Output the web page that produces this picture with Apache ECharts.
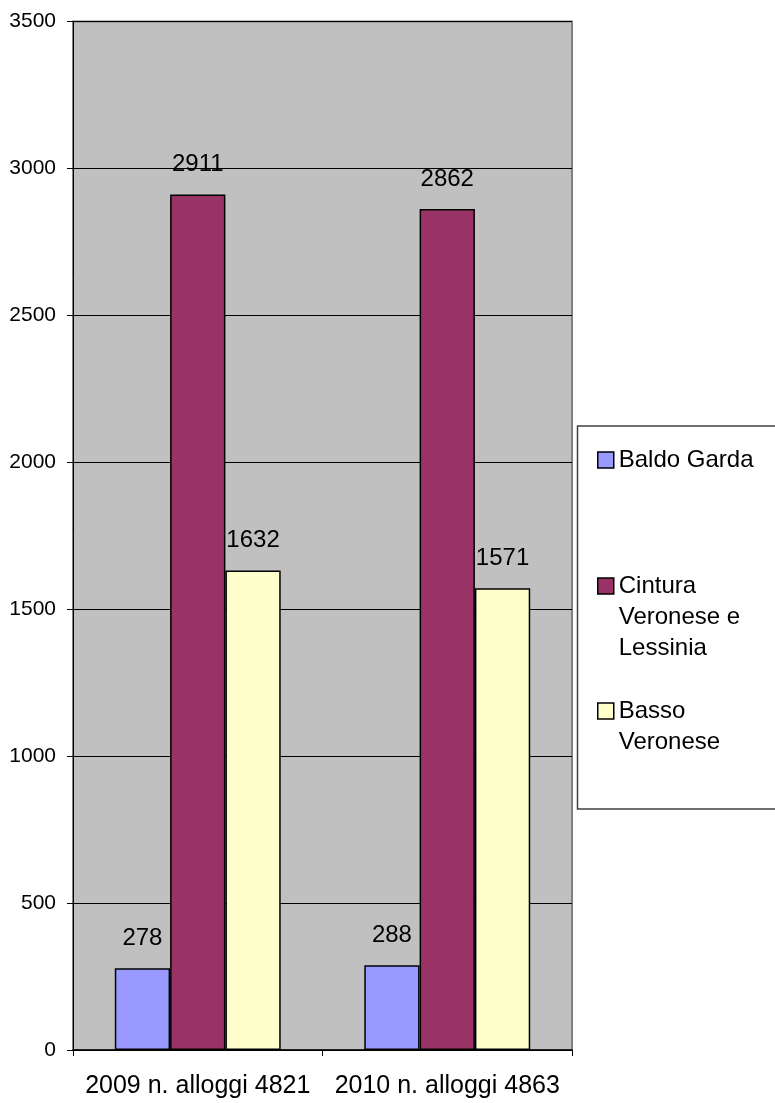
<!DOCTYPE html>
<html>
<head>
<meta charset="utf-8">
<script src="https://cdn.jsdelivr.net/npm/echarts@6/dist/echarts.min.js"></script>
<style>
html,body{margin:0;padding:0;background:#fff;}
#c{width:775px;height:1103px;}
</style>
</head>
<body>
<div id="c"></div>
<script>
const categories = ['2009 n. alloggi 4821', '2010 n. alloggi 4863'];
const seriesNames = ['Baldo Garda', 'Cintura\nVeronese e\nLessinia', 'Basso\nVeronese'];
const baldoGarda = [278, 288];
const cinturaVeronese = [2911, 2862];
const bassoVeronese = [1632, 1571];
const yTicks = [0, 500, 1000, 1500, 2000, 2500, 3000, 3500];

const colors = ['#9999FF', '#993366', '#FFFFCC'];
const FONT = '"Liberation Sans", Arial, sans-serif';
const LH = 31;

const chart = echarts.init(document.getElementById('c'), null, {renderer: 'canvas'});

function legendFor(name, iconCenterY) {
  const lines = name.split('\n').length;
  const k = lines - 1;
  const boxH = (lines + k) * LH;
  return {
    show: true,
    orient: 'vertical',
    left: 597,
    top: iconCenterY - boxH / 2,
    padding: 0,
    itemWidth: 16,
    itemHeight: 16,
    icon: 'rect',
    z: 10,
    selectedMode: false,
    itemStyle: {borderColor: '#000', borderWidth: 1.5},
    data: [name],
    formatter: function (n) { return '\n'.repeat(n.split('\n').length - 1) + n; },
    textStyle: {fontFamily: FONT, fontSize: 24, color: '#000', lineHeight: LH}
  };
}

const seriesData = [baldoGarda, cinturaVeronese, bassoVeronese];

chart.setOption({
  animation: false,
  backgroundColor: '#fff',
  textStyle: {fontFamily: FONT},
  graphic: [{
    type: 'rect',
    z: 0,
    shape: {x: 577.5, y: 426, width: 205, height: 383},
    style: {fill: '#fff', stroke: '#404040', lineWidth: 1.5}
  }],
  legend: [
    legendFor(seriesNames[0], 460),
    legendFor(seriesNames[1], 586),
    legendFor(seriesNames[2], 711)
  ],
  grid: {
    left: 73, top: 21.5, right: 203, bottom: 53,
    show: true, backgroundColor: '#C0C0C0',
    borderColor: '#808080', borderWidth: 2,
    containLabel: false
  },
  xAxis: {
    type: 'category',
    data: categories,
    axisLine: {show: true, lineStyle: {color: '#000', width: 1.5}},
    axisTick: {show: true, inside: false, length: 6, alignWithLabel: false, lineStyle: {color: '#000'}},
    axisLabel: {fontFamily: FONT, fontSize: 25, color: '#000', margin: 24, interval: 0},
    splitLine: {show: false}
  },
  yAxis: {
    type: 'value',
    min: yTicks[0], max: yTicks[yTicks.length - 1], interval: 500,
    axisLine: {show: true, lineStyle: {color: '#000', width: 1}},
    axisTick: {show: true, inside: false, length: 6, lineStyle: {color: '#000'}},
    axisLabel: {fontFamily: FONT, fontSize: 21, color: '#000', margin: 17, formatter: function (v) { return String(v); }},
    splitLine: {show: true, lineStyle: {color: '#000', width: 1}}
  },
  series: seriesNames.map((n, i) => ({
    name: n,
    type: 'bar',
    data: seriesData[i],
    barGap: '0%',
    barCategoryGap: '33.5%',
    itemStyle: {color: colors[i], borderColor: '#000', borderWidth: 1.5},
    label: {show: true, position: 'top', distance: 18, fontFamily: FONT, fontSize: 24, color: '#000'}
  }))
});
</script>
</body>
</html>
